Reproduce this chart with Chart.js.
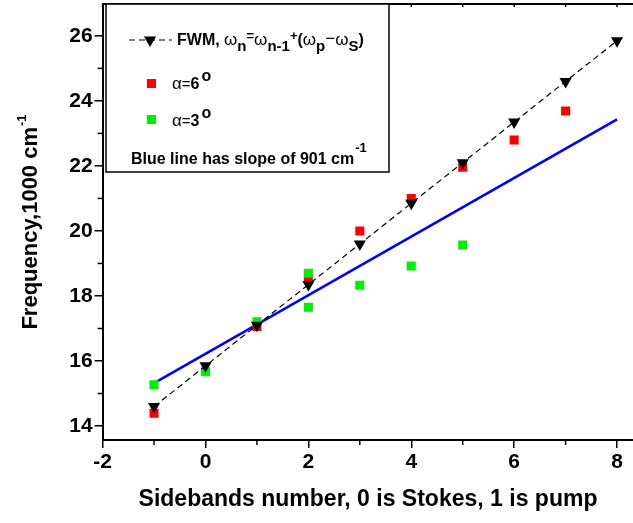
<!DOCTYPE html>
<html>
<head>
<meta charset="utf-8">
<script src="https://cdn.jsdelivr.net/npm/chart.js@4"></script>
<style>
    body { margin: 0; background: #fff; }
    #wrap { width: 633px; height: 523px; position: relative; }
</style>
</head>
<body>
<div id="wrap"><canvas id="chart"></canvas></div>
<script>
// Sideband index vs frequency (in 1000 cm-1)
const sidebands = [-1, 0, 1, 2, 3, 4, 5, 6, 7, 8];
const fwmFreq = [14.6, 15.85, 17.1, 18.35, 19.6, 20.85, 22.1, 23.35, 24.6, 25.85];

const alpha6X = [-1, 1, 2, 3, 4, 5, 6, 7];
const alpha6Freq = [14.39, 17.06, 18.49, 20.0, 21.0, 21.96, 22.8, 23.69];

const alpha3X = [-1, 0, 1, 2, 2, 3, 4, 5];
const alpha3Freq = [15.27, 15.67, 17.21, 18.70, 17.65, 18.33, 18.92, 19.57];

// linear fit, slope 901 cm-1
const fitX = [-1, 8];
const fitFreq = [15.32, 23.43];

const xMajorTicks = [-2, 0, 2, 4, 6, 8];
const xMinorTicks = [-1, 1, 3, 5, 7];
const yMajorTicks = [14, 16, 18, 20, 22, 24, 26];
const yMinorTicks = [15, 17, 19, 21, 23, 25];

const FONT = '"Liberation Sans", Arial, sans-serif';

const toPoints = (xs, ys) => xs.map((x, i) => ({ x: x, y: ys[i] }));

// Draws a downward triangle like the FWM marker
function drawDownTriangle(ctx, x, y, r) {
    ctx.beginPath();
    ctx.moveTo(x, y + r);
    ctx.lineTo(x - r * 0.866, y - r / 2);
    ctx.lineTo(x + r * 0.866, y - r / 2);
    ctx.closePath();
    ctx.fill();
}

// Writes a run of text pieces with their own font and vertical offset
function drawRun(ctx, x, y, pieces) {
    pieces.forEach(p => {
        ctx.font = p[1];
        ctx.fillText(p[0], x + (p[3] || 0), y + p[2]);
        x += ctx.measureText(p[0]).width + (p[3] || 0);
    });
    return x;
}

// No label overhang padding, so the plot frame sits where the reference has it
function noPadding(s) {
    s.paddingTop = 0;
    s.paddingBottom = 0;
    s.paddingLeft = 0;
    s.paddingRight = 0;
}

const decorPlugin = {
    id: 'decor',
    afterDraw(chart) {
        const ctx = chart.ctx;
        const area = chart.chartArea;
        const xs = chart.scales.x;
        const ys = chart.scales.y;
        ctx.save();
        ctx.strokeStyle = '#000';
        ctx.fillStyle = '#000';

        // top frame line with small inner ticks
        ctx.lineWidth = 2;
        ctx.beginPath();
        ctx.moveTo(area.left, area.top);
        ctx.lineTo(area.right + 2, area.top);
        ctx.stroke();
        ctx.lineWidth = 1.5;
        xMajorTicks.concat(xMinorTicks).forEach(v => {
            const px = xs.getPixelForValue(v);
            ctx.beginPath();
            ctx.moveTo(px, area.top);
            ctx.lineTo(px, area.top + 3);
            ctx.stroke();
        });

        // minor ticks outside the axes
        xMinorTicks.forEach(v => {
            const px = xs.getPixelForValue(v);
            ctx.beginPath();
            ctx.moveTo(px, area.bottom);
            ctx.lineTo(px, area.bottom + 5);
            ctx.stroke();
        });
        yMinorTicks.forEach(v => {
            const py = ys.getPixelForValue(v);
            ctx.beginPath();
            ctx.moveTo(area.left, py);
            ctx.lineTo(area.left - 5, py);
            ctx.stroke();
        });

        // legend box
        ctx.fillStyle = '#fff';
        ctx.fillRect(106, 4, 283, 168);
        ctx.lineWidth = 1.5;
        ctx.strokeRect(106, 4, 283, 168);
        ctx.fillStyle = '#000';

        ctx.lineWidth = 1.2;
        ctx.setLineDash([6, 4]);
        ctx.beginPath();
        ctx.moveTo(129, 40);
        ctx.lineTo(172, 40);
        ctx.stroke();
        ctx.setLineDash([]);
        drawDownTriangle(ctx, 150, 40, 7);

        const b16 = 'bold 16px ' + FONT;
        const b15 = 'bold 15px ' + FONT;
        const b13 = 'bold 13px ' + FONT;
        const g17 = '17px ' + FONT;
        ctx.textAlign = 'left';
        ctx.textBaseline = 'alphabetic';
        drawRun(ctx, 177, 45, [
            ['FWM, ', b16, 0], ['\u03c9', g17, 0], ['n', b15, 6], ['=', b13, -5],
            ['\u03c9', g17, 0], ['n-1', b15, 6], ['+', b13, -5], ['(', b16, 0],
            ['\u03c9', g17, 0], ['p', b15, 6], ['\u2212', g17, -1], ['\u03c9', g17, 0],
            ['S', b15, 6], [')', b16, 0]
        ]);

        ctx.fillStyle = '#ff0000';
        ctx.fillRect(147, 79, 9, 9);
        ctx.fillStyle = '#00ee00';
        ctx.fillRect(147, 115, 9, 9);
        ctx.fillStyle = '#000';
        drawRun(ctx, 172, 89, [['\u03b1', g17, 0], ['=', '15px ' + FONT, 0], ['6', b16, 0], ['o', b16, -8, 2]]);
        drawRun(ctx, 172, 126, [['\u03b1', g17, 0], ['=', '15px ' + FONT, 0], ['3', b16, 0], ['o', b16, -8, 2]]);
        drawRun(ctx, 131, 164, [['Blue line has slope of 901 cm', b16, 0], ['-1', b13, -12, 1]]);

        // axis titles
        ctx.font = 'bold 23px ' + FONT;
        ctx.textAlign = 'center';
        ctx.fillText('Sidebands number, 0 is Stokes, 1 is pump', 368, 506);

        ctx.save();
        ctx.font = 'bold 22px ' + FONT;
        const mainW = ctx.measureText('Frequency,1000 cm').width;
        ctx.font = 'bold 13px ' + FONT;
        const supW = ctx.measureText('-1').width;
        const total = mainW + supW + 1;
        ctx.translate(37, (area.top + area.bottom) / 2 + total / 2);
        ctx.rotate(-Math.PI / 2);
        ctx.textAlign = 'left';
        ctx.font = 'bold 22px ' + FONT;
        ctx.fillText('Frequency,1000 cm', 0, 0);
        ctx.font = 'bold 13px ' + FONT;
        ctx.fillText('-1', mainW + 1, -11);
        ctx.restore();

        ctx.restore();
    }
};

new Chart(document.getElementById('chart'), {
    type: 'scatter',
    data: {
        datasets: [
            {
                label: 'FWM',
                data: toPoints(sidebands, fwmFreq),
                showLine: true,
                borderColor: '#000',
                borderWidth: 1.2,
                borderDash: [6, 4],
                pointStyle: 'triangle',
                rotation: 180,
                pointRadius: 7,
                pointBackgroundColor: '#000',
                pointBorderColor: '#000',
                pointBorderWidth: 0
            },
            {
                label: 'alpha=3',
                data: toPoints(alpha3X, alpha3Freq),
                pointStyle: 'rect',
                pointRadius: 6.4,
                pointBackgroundColor: '#00ee00',
                pointBorderWidth: 0
            },
            {
                label: 'alpha=6',
                data: toPoints(alpha6X, alpha6Freq),
                pointStyle: 'rect',
                pointRadius: 6.4,
                pointBackgroundColor: '#ff0000',
                pointBorderWidth: 0
            },
            {
                label: 'fit',
                data: toPoints(fitX, fitFreq),
                showLine: true,
                borderColor: '#0000ff',
                borderWidth: 2.6,
                pointRadius: 0
            }
        ]
    },
    options: {
        responsive: true,
        maintainAspectRatio: false,
        animation: false,
        layout: { autoPadding: false, padding: { left: 0, top: 4, right: 0, bottom: 0 } },
        plugins: { legend: { display: false }, tooltip: { enabled: false } },
        scales: {
            x: {
                type: 'linear',
                min: -2,
                max: 8.31,
                afterBuildTicks: s => { s.ticks = xMajorTicks.map(v => ({ value: v })); },
                afterFit: s => { s.height = 83; noPadding(s); },
                grid: { drawOnChartArea: false, drawTicks: true, tickLength: 8, color: '#000', lineWidth: 1.5 },
                border: { display: true, color: '#000', width: 2 },
                ticks: { color: '#000', font: { family: FONT, size: 21, weight: 'bold' }, padding: 2, maxRotation: 0 }
            },
            y: {
                type: 'linear',
                min: 13.57,
                max: 26.98,
                afterBuildTicks: s => { s.ticks = yMajorTicks.map(v => ({ value: v })); },
                afterFit: s => { s.width = 102.6; noPadding(s); },
                grid: { drawOnChartArea: false, drawTicks: true, tickLength: 8, color: '#000', lineWidth: 1.5 },
                border: { display: true, color: '#000', width: 2 },
                ticks: { color: '#000', font: { family: FONT, size: 21, weight: 'bold' }, padding: 2 }
            }
        }
    },
    plugins: [decorPlugin]
});
</script>
</body>
</html>
